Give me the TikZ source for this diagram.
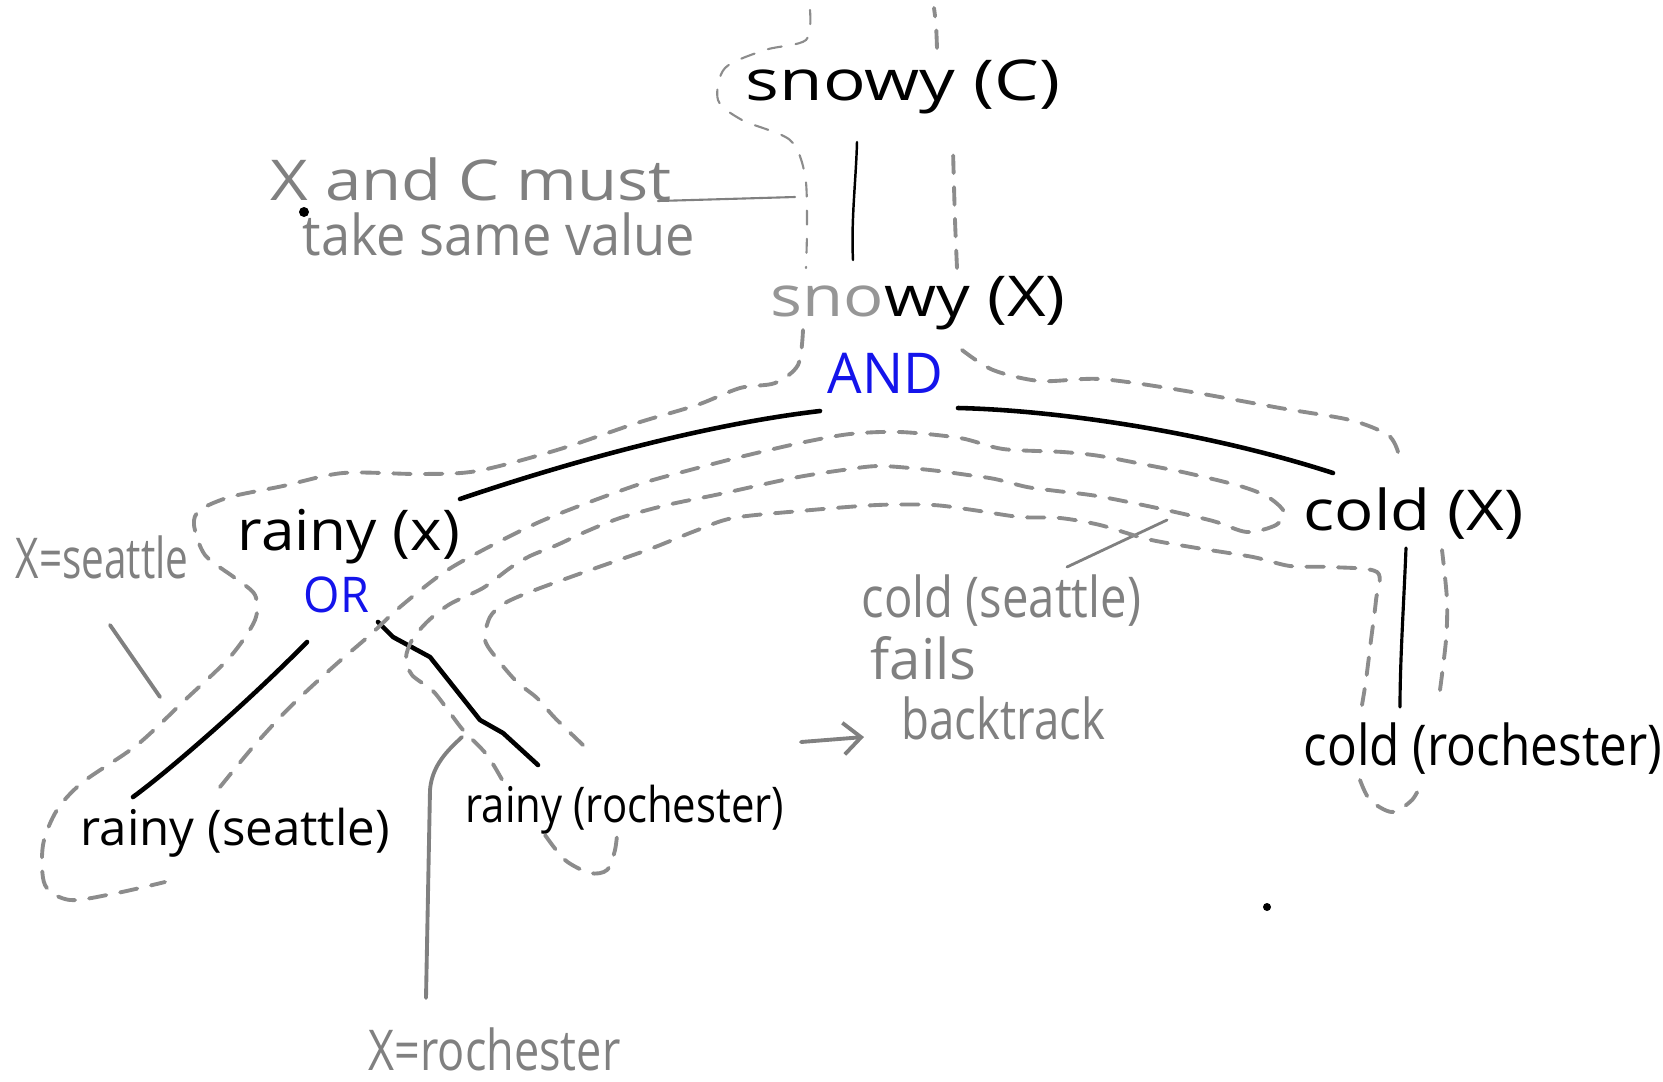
\documentclass[tikz,border=0pt]{standalone}
\usepackage{fontspec}
\usepackage{graphicx}
\setmainfont{Open Sans}
\usetikzlibrary{arrows.meta}
\definecolor{notegray}{RGB}{128,128,128}
\definecolor{tracegray}{RGB}{140,140,140}
\definecolor{andblue}{RGB}{20,20,235}
\definecolor{faint}{RGB}{150,150,150}
\newcommand{\hw}[2]{\scalebox{#1}[1]{#2}}
\begin{document}
\begin{tikzpicture}[x=0.01cm,y=-0.01cm,
  lbl/.style={anchor=base west, inner sep=0pt, font=\fontsize{16}{18}\selectfont},
  small/.style={font=\fontsize{14}{16}\selectfont},
  note/.style={lbl, text=notegray},
  blue/.style={lbl, text=andblue},
  treeline/.style={line width=1.3pt, line cap=round, line join=round},
  pointer/.style={draw=notegray, line width=1.1pt, line cap=round},
  dtrace/.style={draw=tracegray, line width=1.1pt, dash pattern=on 5pt off 4pt, line cap=round},
  thintrace/.style={draw=tracegray, line width=0.6pt, dash pattern=on 4pt off 4pt, line cap=round}]
\useasboundingbox (0,0) rectangle (1663,1081);

% ---- nodes ----
\node[lbl] (sC) at (745,100) {\hw{1.26}{snowy (C)}};
\node[lbl] (sX) at (770,316) {\hw{1.19}{{\color{faint}sno}wy (X)}};
\node[blue] (and) at (827,393) {\hw{0.97}{AND}};
\node[lbl] (rx) at (237,550) {\hw{1.07}{rainy (x)}};
\node[blue, small] (or) at (303,612) {\hw{0.95}{OR}};
\node[lbl, small] (rs) at (80,845) {\hw{1.0}{rainy (seattle)}};
\node[lbl, small] (rr) at (465,822) {\hw{0.85}{rainy (rochester)}};
\node[lbl] (cx) at (1303,530) {\hw{1.16}{cold (X)}};
\node[lbl] (cr) at (1303,765) {\hw{0.88}{cold (rochester)}};

\node[note] (n1) at (270,200) {\hw{1.16}{X and C must}};
\node[note] (n2) at (302,255) {\hw{0.93}{take same value}};
\node[note] (xs) at (15,578) {\hw{0.72}{X=seattle}};
\node[note] (xr) at (368,1070) {\hw{0.8}{X=rochester}};
\node[note] (cs) at (861,617) {\hw{0.84}{cold (seattle)}};
\node[note] (fl) at (870,679) {fails};
\node[note] (bt) at (901,739) {\hw{0.81}{backtrack}};

% ---- connector end points ----
\coordinate (sCb) at (857,142);
\coordinate (sXt) at (853,260);
\coordinate (andL) at (820,411);
\coordinate (rxR) at (460,499);
\coordinate (andR) at (958,408);
\coordinate (cxL) at (1333,473);
\coordinate (orL) at (307,642);
\coordinate (rsT) at (133,797);
\coordinate (orR) at (378,622);
\coordinate (rrT) at (538,765);
\coordinate (cxB) at (1406,548);
\coordinate (crT) at (1400,707);
\coordinate (noteR) at (658,201);
\coordinate (grpL) at (795,197);
\coordinate (xsA) at (110,625);
\coordinate (xsB) at (160,697);
\coordinate (xrA) at (462,737);
\coordinate (xrB) at (426,998);
\coordinate (csA) at (1067,567);
\coordinate (csB) at (1167,520);
\coordinate (arA) at (801,742);
\coordinate (arB) at (864,737);

% ---- tree lines ----
\draw[treeline, line width=0.7pt] (sCb) .. controls (856,180) and (851,220) .. (sXt);
\draw[treeline] (andL) .. controls (700,425) and (560,465) .. (rxR);
\draw[treeline] (andR) .. controls (1050,410) and (1200,430) .. (cxL);
\draw[treeline] (orL) .. controls (250,700) and (170,770) .. (rsT);
\draw[treeline] (orR) -- (393,637) -- (430,657) -- (480,720) -- (503,733) -- (rrT);
\draw[treeline, line width=0.9pt] (cxB) .. controls (1404,600) and (1400,660) .. (crT);

% ---- annotations ----
\draw[pointer, line width=0.6pt] (noteR) -- (grpL);
\draw[pointer] (xsA) -- (xsB);
\draw[pointer] (xrA) .. controls (448,750) and (432,765) .. (430,790) -- (xrB);
\draw[pointer, line width=0.8pt] (csA) -- (csB);
\draw[pointer, -{Straight Barb[length=5pt,width=9pt]}] (arA) -- (arB);
\fill (304,212) circle (5);
\fill (1267,907) circle (4);

% ---- dashed search trace ----
\draw[thintrace] plot[smooth] coordinates {(810,10) (806,40) (765,50) (725,68) (718,100) (742,120) (790,140) (805,175) (807,225) (806,268)};
\draw[dtrace] plot[smooth] coordinates {(803,330) (798,365) (775,383) (740,388) (697,405) (637,423) (557,450) (477,471) (420,474) (343,473) (283,486) (230,497) (200,510) (194,525) (205,555) (235,578) (255,595) (255,620) (230,657) (185,700) (137,745) (83,782) (57,810) (43,845) (45,885) (70,900) (117,893) (165,882)};
\draw[dtrace] plot[smooth] coordinates {(220,787) (253,747) (290,707) (333,667) (370,635) (400,607) (443,573) (483,550) (537,523) (587,503) (643,483) (690,470) (740,457) (800,443) (850,434) (900,432) (960,438) (1003,449) (1063,452) (1100,456) (1147,465) (1187,473) (1240,486) (1268,497) (1284,512) (1276,525) (1247,532) (1213,521) (1157,508) (1097,496) (1057,491) (1027,487) (995,479) (968,475) (930,470) (880,466) (843,470) (793,478) (720,494) (667,505) (620,518) (585,532) (557,545) (530,556) (510,568) (483,588) (450,604) (428,621) (412,640) (406,658) (412,675) (432,690) (445,706) (463,730) (487,755) (505,785)};
\draw[dtrace] plot[smooth] coordinates {(545,835) (565,860) (590,873) (607,870) (615,850) (618,825)};
\draw[dtrace] plot[smooth] coordinates {(583,745) (555,718) (537,698) (517,682) (498,660) (485,640) (490,617) (505,603) (535,590) (593,569) (650,549) (695,531) (733,518) (800,511) (877,505) (933,505) (973,510) (1020,517) (1060,518) (1100,525) (1147,539) (1197,548) (1253,557) (1290,566) (1330,567) (1377,572) (1376,600) (1371,640) (1366,680) (1362,705)};
\draw[dtrace] plot[smooth] coordinates {(1360,780) (1370,800) (1392,812) (1412,800) (1422,782)};
\draw[dtrace] plot[smooth] coordinates {(1440,690) (1446,640) (1447,600) (1442,550)};
\draw[dtrace] plot[smooth] coordinates {(1398,452) (1388,435) (1350,420) (1280,408) (1180,390) (1100,379) (1040,381) (993,370) (962,350)};
\draw[dtrace] plot[smooth] coordinates {(957,268) (955,220) (953,150)};
\draw[dtrace] plot[smooth] coordinates {(937,48) (936,25) (934,8)};
\end{tikzpicture}
\end{document}
